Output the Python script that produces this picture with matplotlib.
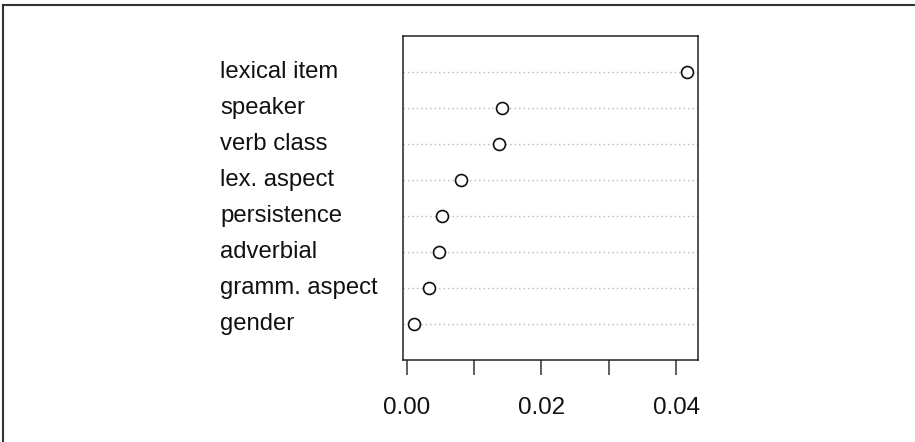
import matplotlib
matplotlib.use("Agg")
import matplotlib.pyplot as plt
from matplotlib.transforms import blended_transform_factory
from matplotlib.lines import Line2D

plt.rcParams['font.family'] = ['Liberation Sans', 'DejaVu Sans']

labels = ["lexical item", "speaker", "verb class", "lex. aspect",
          "persistence", "adverbial", "gramm. aspect", "gender"]
values = [0.04169, 0.01416, 0.01371, 0.00796, 0.00520, 0.00475, 0.00321, 0.00108]
xticks = [0.00, 0.01, 0.02, 0.03, 0.04]
xticklabels = ["0.00", "", "0.02", "", "0.04"]

W, H = 915, 442
fig = plt.figure(figsize=(W / 100, H / 100), dpi=100)

# axes box in pixels
left, right, top, bottom = 403.3, 698.3, 35.7, 360.0
ax = fig.add_axes([left / W, 1 - bottom / H, (right - left) / W, (bottom - top) / H])

n = len(labels)
ys = list(range(n, 0, -1))

for y in ys:
    ax.axhline(y, color="#b8b8b8", lw=1.0, linestyle=(0, (1, 2.2)), zorder=1)

ax.plot(values, ys, linestyle="none", marker="o", markersize=8.6,
        markerfacecolor="white", markeredgecolor="#111111", markeredgewidth=1.2, zorder=3)

span = max(values) - min(values)
ax.set_xlim(min(values) - 0.04 * span, max(values) + 0.04 * span)
ax.set_ylim(0, n + 1)

ax.set_yticks([])
ax.set_xticks(xticks)
ax.set_xticklabels(xticklabels, fontsize=17.4, color="#111111")
ax.tick_params(axis="x", length=10.8, width=1.1, pad=15.5, color="#333333")
for s in ax.spines.values():
    s.set_linewidth(1.1)
    s.set_color("#222222")

trans = blended_transform_factory(fig.transFigure, ax.transData)
for lab, y in zip(labels, ys):
    ax.text(220 / W, y, lab, transform=trans, ha="left", va="center",
            fontsize=17.2, color="#111111")

# outer frame (top and left only visible)
fig.add_artist(Line2D([3 / W, 1], [1 - 5 / H, 1 - 5 / H], transform=fig.transFigure,
                      color="#333333", lw=1.5))
fig.add_artist(Line2D([3 / W, 3 / W], [0, 1 - 5 / H], transform=fig.transFigure,
                      color="#333333", lw=1.5))

fig.savefig("out.png", dpi=100)
